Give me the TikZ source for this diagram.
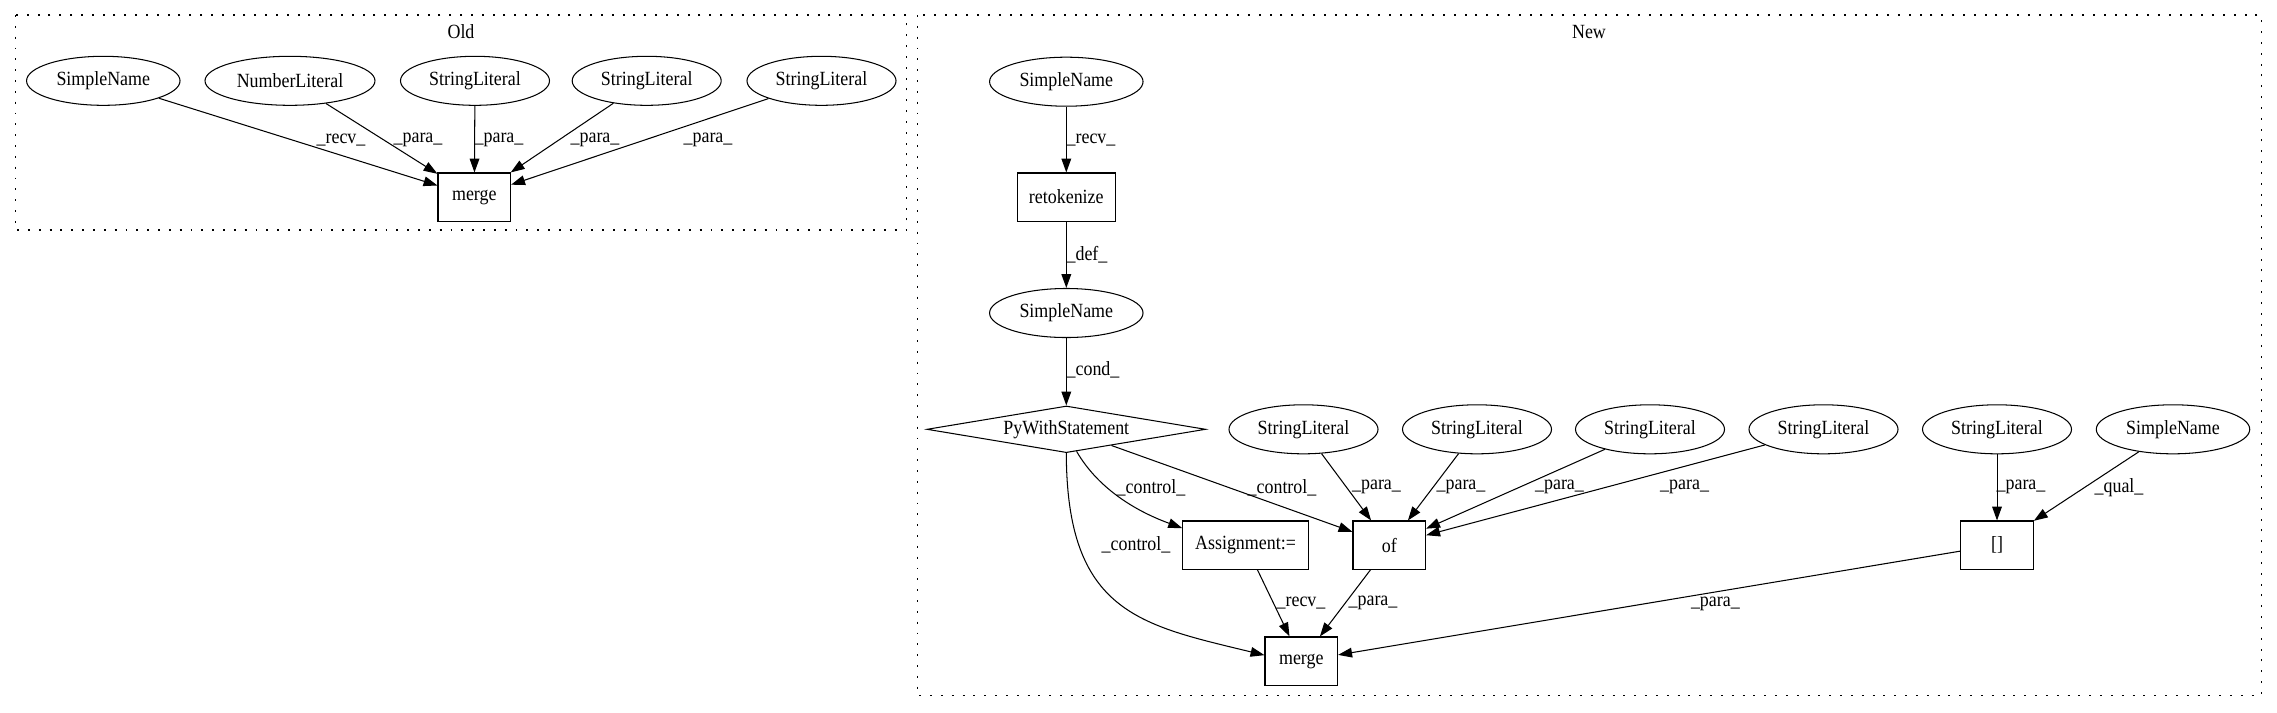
\documentclass[tikz,border=0pt]{standalone}
\usepackage{fontspec}
\setmainfont{Liberation Serif}[FakeStretch=0.89]
\usetikzlibrary{shapes.geometric,arrows.meta}
\begin{document}
\begin{tikzpicture}[x=0.72pt,y=-0.72pt,
  every node/.style={font=\fontsize{14.5}{17}\selectfont},
  ell/.style={draw,ellipse,inner sep=0pt,minimum height=35.3pt,line width=0.75pt},
  box/.style={draw,rectangle,inner sep=0pt,minimum height=34.6pt,line width=0.75pt},
  dia/.style={draw,diamond,aspect=6,inner sep=0pt,minimum width=200.7pt,minimum height=33.6pt,line width=0.75pt},
  arr/.style={-{Triangle[length=10pt,width=7pt]},line width=0.75pt},
  lbl/.style={inner sep=0pt},
  clus/.style={draw,line width=0.75pt,dash pattern=on 1.4pt off 6.4pt},
]
\useasboundingbox (0,0) rectangle (2277,712);
% clusters
\draw[clus] (15.5,15) rectangle (906.7,230);
\draw[clus] (917.3,15) rectangle (2261,695.5);
\node[lbl] (oldlbl) at (461,31.7) {Old};
\node[lbl] (newlbl) at (1589,31.7) {New};

% Old nodes
\node[ell,minimum width=110.5pt] (os1) at (103.3,80.8) {SimpleName};
\node[ell,minimum width=122.4pt] (os2) at (290,80.8) {NumberLiteral};
\node[ell,minimum width=107.3pt] (os3) at (475,80.8) {StringLiteral};
\node[ell,minimum width=107.3pt] (os4) at (646.7,80.8) {StringLiteral};
\node[ell,minimum width=107.3pt] (os5) at (821.5,80.8) {StringLiteral};
\node[box,minimum width=52.3pt] (om) at (474.3,197) {merge};

\draw[arr] (os1) -- (om) node[lbl] at (341,140) {\_recv\_};
\draw[arr] (os2) -- (om) node[lbl] at (418,140) {\_para\_};
\draw[arr] (os3) -- (om) node[lbl] at (499,140) {\_para\_};
\draw[arr] (os4) -- (om) node[lbl] at (595,140) {\_para\_};
\draw[arr] (os5) -- (om) node[lbl] at (708,140) {\_para\_};

% New nodes
\node[ell,minimum width=110.5pt] (ns1) at (1066.3,81.7) {SimpleName};
\node[box,minimum width=70.6pt] (retok) at (1066.3,197) {retokenize};
\node[ell,minimum width=110.5pt] (ns2) at (1066.3,313) {SimpleName};
\node[dia] (pws) at (1066.3,429.3) {PyWithStatement};
\node[ell,minimum width=107.3pt] (nsl1) at (1303.5,429.3) {StringLiteral};
\node[ell,minimum width=107.3pt] (nsl2) at (1477,429.3) {StringLiteral};
\node[ell,minimum width=107.3pt] (nsl3) at (1650,429.3) {StringLiteral};
\node[ell,minimum width=107.3pt] (nsl4) at (1823.5,429.3) {StringLiteral};
\node[ell,minimum width=107.3pt] (nsl5) at (1997,429.3) {StringLiteral};
\node[ell,minimum width=110.5pt] (ns3) at (2173,429.3) {SimpleName};
\node[box,minimum width=90.5pt] (assign) at (1245.5,545) {Assignment:=};
\node[box,minimum width=52.3pt] (of) at (1389.3,545) {of};
\node[box,minimum width=52.3pt] (idx) at (1997,545) {[]};
\node[box,minimum width=52.3pt] (nm) at (1301.3,661) {merge};

\draw[arr] (ns1) -- (retok) node[lbl] at (1091,140) {\_recv\_};
\draw[arr] (retok) -- (ns2) node[lbl] at (1087,255) {\_def\_};
\draw[arr] (ns2) -- (pws) node[lbl] at (1093,370) {\_cond\_};
\draw[arr] (pws.-65) .. controls (1099.5,491) and (1140,512.7) .. (assign.165)
  node[lbl] at (1151,487.3) {\_control\_};
\draw[arr] (pws) -- (of) node[lbl] at (1282,487.3) {\_control\_};
\draw[arr] (pws.south) .. controls (1066.7,612.7) and (1140,625) .. (nm.171)
  node[lbl] at (1136,545) {\_control\_};
\draw[arr] (nsl1) -- (of) node[lbl] at (1376.5,487.3) {\_para\_};
\draw[arr] (nsl2) -- (of) node[lbl] at (1461,487.3) {\_para\_};
\draw[arr] (nsl3) -- (of) node[lbl] at (1559.5,487.3) {\_para\_};
\draw[arr] (nsl4) -- (of) node[lbl] at (1684.6,487.3) {\_para\_};
\draw[arr] (nsl5) -- (idx) node[lbl] at (2021,487.3) {\_para\_};
\draw[arr] (ns3) -- (idx) node[lbl] at (2119,487.3) {\_qual\_};
\draw[arr] (assign) -- (nm) node[lbl] at (1301,603) {\_recv\_};
\draw[arr] (of) -- (nm) node[lbl] at (1373,603) {\_para\_};
\draw[arr] (idx) -- (nm) node[lbl] at (1715.4,604) {\_para\_};
\end{tikzpicture}
\end{document}
